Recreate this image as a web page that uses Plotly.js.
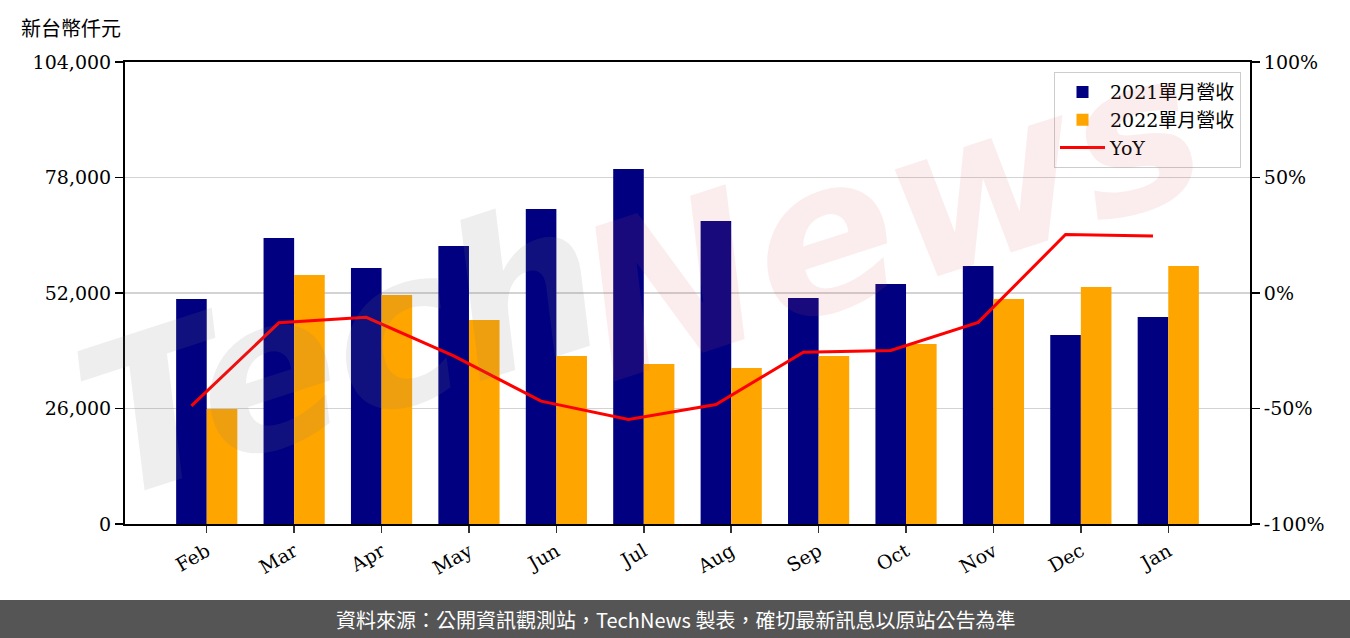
<!DOCTYPE html>
<html>
<head>
<meta charset="utf-8">
<script src="https://cdn.plot.ly/plotly-3.0.1.min.js"></script>
<style>
html,body{margin:0;padding:0;background:#fff;}
#chart{width:1350px;height:638px;}
</style>
</head>
<body>
<div id="chart"></div>
<script>
const months = ["Feb","Mar","Apr","May","Jun","Jul","Aug","Sep","Oct","Nov","Dec","Jan"];
const rev2021 = [50650, 64380, 57630, 62580, 70910, 79910, 68210, 50870, 54020, 58080, 42540, 46600];
const rev2022 = [25890, 56050, 51550, 45920, 37820, 36020, 35120, 37820, 40520, 50650, 53350, 58080];
const yoy = [-48.9, -12.9, -10.5, -27.2, -46.8, -54.7, -48.3, -25.6, -24.9, -12.7, 25.3, 24.7];
const leftTicks = [0, 26000, 52000, 78000, 104000];
const rightTicks = [-100, -50, 0, 50, 100];

const idx = months.map((m, i) => i);
const barW = 0.35;
const serif = '"DejaVu Serif", "Liberation Serif", "Noto Sans CJK TC", serif';
const cjk = '"Noto Sans CJK TC", "Noto Sans", sans-serif';

const traces = [
  {type:'bar', name:'2021單月營收', x: idx, y: rev2021, width: barW, offset: -barW,
   marker:{color:'#000080'}, yaxis:'y'},
  {type:'bar', name:'2022單月營收', x: idx, y: rev2022, width: barW, offset: 0,
   marker:{color:'#FFA500'}, yaxis:'y'},
  {type:'scatter', mode:'lines', name:'YoY', x: idx.map(i => i - barW/2), y: yoy,
   line:{color:'#FF0000', width:3}, yaxis:'y2'}
];

const layout = {
  width:1350, height:638,
  margin:{l:125, r:100, t:62, b:114},
  paper_bgcolor:'#ffffff', plot_bgcolor:'#ffffff',
  barmode:'overlay',
  showlegend:true,
  legend:{x:0.992, y:0.978, xanchor:'right', yanchor:'top',
          bgcolor:'rgba(255,255,255,0.8)', bordercolor:'#cccccc', borderwidth:1,
          itemwidth:45,
          font:{family:serif, size:19, color:'#000'}, tracegroupgap:0},
  font:{family:serif, color:'#000'},
  xaxis:{range:[-0.935, 11.935], tickmode:'array', tickvals: idx, ticktext: months,
         tickangle:-30, ticks:'outside', ticklen:7, tickwidth:1.5, tickcolor:'#333',
         showline:true, linecolor:'#000', linewidth:2, mirror:true, showgrid:false,
         zeroline:false, tickfont:{family:serif, size:19, color:'#000'}},
  yaxis:{range:[0, 104000], tickmode:'array', tickvals: leftTicks,
         ticktext: leftTicks.map(v => v.toLocaleString('en-US')),
         ticks:'outside', ticklen:8, tickwidth:1.5, tickcolor:'#000',
         showline:true, linecolor:'#000', linewidth:2, mirror:true,
         showgrid:true, gridcolor:'#d3d3d3', gridwidth:1.5, zeroline:false,
         tickfont:{family:serif, size:19, color:'#000'}},
  yaxis2:{range:[-100, 100], overlaying:'y', side:'right', tickmode:'array',
          tickvals: rightTicks, ticktext: rightTicks.map(v => v + '%'),
          ticks:'outside', ticklen:8, tickwidth:1.5, tickcolor:'#000',
          showline:true, linecolor:'#000', linewidth:2, showgrid:false, zeroline:false,
          tickfont:{family:serif, size:19, color:'#000'}},
  shapes:[
    {type:'rect', xref:'paper', yref:'paper', x0:-0.12, x1:1.1, y0:-0.26, y1:-(76/462),
     fillcolor:'#555555', line:{width:0}, layer:'above'}
  ],
  annotations:[
    {text:'新台幣仟元', xref:'paper', yref:'paper', x:-(106/1125), y:1+(35/462),
     xanchor:'left', yanchor:'middle', showarrow:false,
     font:{family:cjk, size:20, color:'#000'}},
    {text:'資料來源：公開資訊觀測站，TechNews 製表，確切最新訊息以原站公告為準',
     xref:'paper', yref:'paper', x:(675-125)/1125, y:-(95/462),
     xanchor:'center', yanchor:'middle', showarrow:false,
     font:{family:cjk, size:20, color:'#ffffff'}},
    {text:'<i><b>Tech</b></i>', xref:'paper', yref:'paper', x:(340-125)/1125, y:1-(350-62)/462,
     xanchor:'center', yanchor:'middle', showarrow:false, textangle:-18,
     font:{family:'"DejaVu Sans", sans-serif', size:210, color:'rgba(120,120,120,0.13)'}},
    {text:'<i><b>News</b></i>', xref:'paper', yref:'paper', x:(890-125)/1125, y:1-(215-62)/462,
     xanchor:'center', yanchor:'middle', showarrow:false, textangle:-18,
     font:{family:'"DejaVu Sans", sans-serif', size:210, color:'rgba(220,90,90,0.11)'}}
  ]
};

Plotly.newPlot('chart', traces, layout, {displayModeBar:false, staticPlot:true});
</script>
</body>
</html>
